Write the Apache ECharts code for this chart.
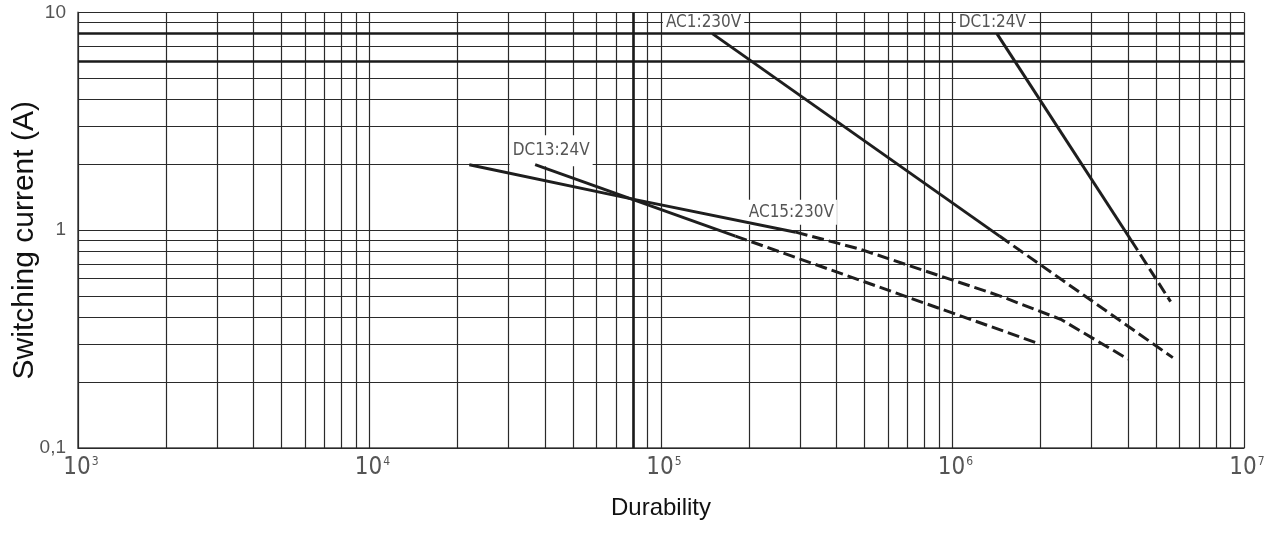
<!DOCTYPE html>
<html>
<head>
<meta charset="utf-8">
<script src="https://cdn.jsdelivr.net/npm/echarts@6/dist/echarts.min.js"></script>
<style>
  html, body { margin: 0; padding: 0; background: #fff; }
  #chart { width: 1266px; height: 538px; }
</style>
</head>
<body>
<div id="chart"></div>
<script>
// 坐标轴十进位 / 网格
const xDecades = [1e3, 1e4, 1e5, 1e6];
const yDecades = [0.1, 1];
const xMax = 1e7;
const yMax = 10;
const steps = [1, 2, 3, 4, 5, 6, 7, 8, 9];
const xHeavy = [8e4];
const yHeavy = [6, 8];

// 曲线数据 (durability, current A)
const ac1Solid = [[1.5e5, 8], [1.45e6, 0.94]];
const ac1Dashed = [[1.45e6, 0.94], [5.7e6, 0.26]];
const dc1Solid = [[1.42e6, 8], [4.1e6, 0.9]];
const dc1Dashed = [[4.1e6, 0.9], [5.6e6, 0.47]];
const dc13Solid = [[3.7e4, 2], [1.8e5, 0.94]];
const dc13Dashed = [[1.8e5, 0.94], [2e6, 0.3]];
const ac15Solid = [[2.2e4, 2], [8e4, 1.39], [2.9e5, 0.98]];
const ac15Dashed = [[2.9e5, 0.98], [4.8e5, 0.82], [1.45e6, 0.5], [2.35e6, 0.39], [4e6, 0.256]];

const narrow = "'Liberation Sans Narrow', 'DejaVu Sans Condensed', 'Arial Narrow', sans-serif";
const sans = "'Liberation Sans', Arial, sans-serif";
const lineColor = '#1e1e1e';

// 网格线
const gridLines = [];
xDecades.forEach(d => steps.forEach(m => gridLines.push({ xAxis: d * m })));
gridLines.push({ xAxis: xMax });
yDecades.forEach(d => steps.forEach(m => gridLines.push({ yAxis: +(d * m).toFixed(2) })));
gridLines.push({ yAxis: yMax });
const heavyLines = xHeavy.map(v => ({ xAxis: v })).concat(yHeavy.map(v => ({ yAxis: v })));

function curve(data, dashed, label) {
  const s = {
    type: 'line',
    data: data,
    showSymbol: false,
    symbol: 'none',
    z: 5,
    lineStyle: { color: lineColor, width: 3, type: dashed ? [12, 5] : 'solid' },
    animation: false
  };
  if (label) {
    s.markPoint = {
      symbol: 'circle',
      symbolSize: 0,
      silent: true,
      data: [{
        coord: label.coord,
        label: {
          show: true,
          position: 'inside',
          formatter: label.text,
          color: '#555',
          fontSize: 17,
          lineHeight: 16,
          fontFamily: narrow,
          backgroundColor: '#fff',
          padding: label.pad || [0, 3]
        }
      }]
    };
  }
  return s;
}

const chart = echarts.init(document.getElementById('chart'));
chart.setOption({
  backgroundColor: '#fff',
  animation: false,
  grid: { left: 78, right: 22, top: 12.5, bottom: 90, containLabel: false, outerBoundsMode: 'none' },
  xAxis: {
    type: 'log',
    logBase: 10,
    min: 1e3,
    max: xMax,
    name: 'Durability',
    nameLocation: 'middle',
    nameGap: 48,
    nameMoveOverlap: false,
    nameTextStyle: { color: '#111', fontSize: 24, fontFamily: sans },
    axisLine: { show: true, lineStyle: { color: '#777', width: 2 } },
    axisTick: { show: false },
    splitLine: { show: false },
    axisLabel: {
      margin: 8,
      padding: [0, 0, 0, 6],
      formatter: v => '{b|10}{s|' + Math.round(Math.log10(v)) + '}',
      rich: {
        b: { fontSize: 24, fontFamily: narrow, color: '#555', lineHeight: 24 },
        s: { fontSize: 12, fontFamily: narrow, color: '#555', verticalAlign: 'top', lineHeight: 24, padding: [0, 0, 0, 1] }
      }
    }
  },
  yAxis: {
    type: 'log',
    logBase: 10,
    min: 0.1,
    max: yMax,
    name: 'Switching current (A)',
    nameLocation: 'middle',
    nameGap: 38,
    nameMoveOverlap: false,
    nameRotate: 90,
    nameTextStyle: { color: '#111', fontSize: 30, fontFamily: sans, padding: [0, 20, 0, 0] },
    axisLine: { show: true, lineStyle: { color: '#777', width: 2 } },
    axisTick: { show: false },
    splitLine: { show: false },
    axisLabel: {
      margin: 12,
      color: '#555',
      fontSize: 19,
      fontFamily: sans,
      formatter: v => (v < 0.5 ? '0,1' : String(Math.round(v)))
    }
  },
  series: [
    {
      type: 'line',
      data: [],
      silent: true,
      z: 1,
      markLine: {
        silent: true,
        symbol: ['none', 'none'],
        label: { show: false },
        lineStyle: { color: '#2a2a2a', width: 1.2, type: 'solid' },
        data: gridLines,
        animation: false
      }
    },
    {
      type: 'line',
      data: [],
      silent: true,
      z: 2,
      markLine: {
        silent: true,
        symbol: ['none', 'none'],
        label: { show: false },
        lineStyle: { color: '#1a1a1a', width: 2.6, type: 'solid' },
        data: heavyLines,
        animation: false
      }
    },
    curve(ac1Solid, false, { coord: [1.4e5, 8.95], text: 'AC1:230V' }),
    curve(ac1Dashed, true),
    curve(dc1Solid, false, { coord: [1.37e6, 8.95], text: 'DC1:24V' }),
    curve(dc1Dashed, true),
    curve(dc13Solid, false, { coord: [4.2e4, 2.32], text: 'DC13:24V', pad: [12, 3, 3, 3] }),
    curve(dc13Dashed, true),
    curve(ac15Solid, false, { coord: [2.8e5, 1.21], text: 'AC15:230V', pad: [6, 3, 3, 3] }),
    curve(ac15Dashed, true)
  ]
});
</script>
</body>
</html>
